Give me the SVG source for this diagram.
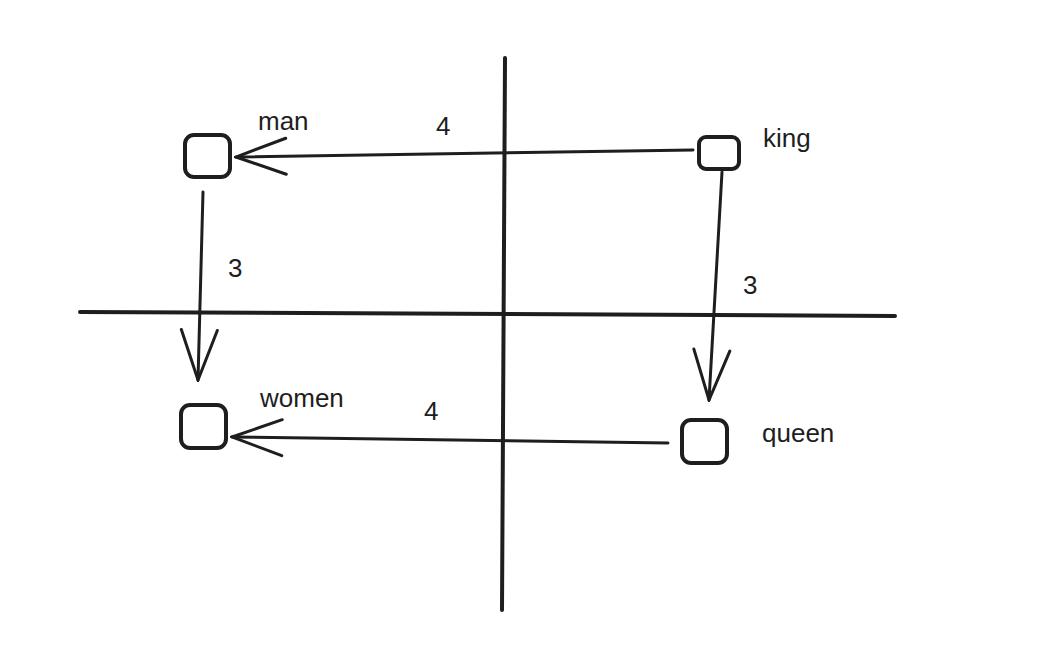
<svg xmlns="http://www.w3.org/2000/svg" width="1056" height="670" viewBox="0 0 1056 670">
<style>
.s{fill:none;stroke:#1e1e1e;stroke-width:4;stroke-linecap:round;stroke-linejoin:round}
.a{fill:none;stroke:#1e1e1e;stroke-width:3;stroke-linecap:round}
.t{font-family:"Liberation Sans",sans-serif;font-size:26px;fill:#1e1e1e}
</style>
<defs>
<marker id="h" viewBox="0 0 20 20" refX="18" refY="10" markerWidth="20" markerHeight="20" markerUnits="userSpaceOnUse" orient="auto"><path d="M0 0 L18 10 L0 20" fill="none" stroke="#1e1e1e" stroke-width="3" stroke-linecap="round"/></marker>
<marker id="H" viewBox="0 0 60 40" refX="58" refY="20" markerWidth="60" markerHeight="40" markerUnits="userSpaceOnUse" orient="auto"><path d="M8 2 L58 20 L8 38" fill="none" stroke="#1e1e1e" stroke-width="3" stroke-linecap="round"/></marker>
</defs>
<rect width="1056" height="670" fill="#fff"/>
<g id="axes">
<path class="s" d="M505 58 L502 610"/>
<path class="s" d="M80 312 L895 316"/>
</g>
<g id="man"><rect class="s" x="185" y="135" width="45" height="42" rx="9"/><text class="t" x="258" y="130">man</text></g>
<g id="king"><rect class="s" x="699" y="137" width="40" height="32" rx="7"/><text class="t" x="763" y="147">king</text></g>
<g id="women"><rect class="s" x="181" y="405" width="45" height="43" rx="9"/><text class="t" x="260" y="407">women</text></g>
<g id="queen"><rect class="s" x="682" y="420" width="45" height="43" rx="9"/><text class="t" x="762" y="442">queen</text></g>
<g id="connectors">
<path class="a" d="M693 150 L236 157" marker-end="url(#H)"/>
<path class="a" d="M203 192 L198 380" marker-end="url(#H)"/>
<path class="a" d="M722 172 L709 400" marker-end="url(#H)"/>
<path class="a" d="M668 443 L232 437" marker-end="url(#H)"/>
<text class="t" x="436" y="135">4</text>
<text class="t" x="228" y="277">3</text>
<text class="t" x="743" y="294">3</text>
<text class="t" x="424" y="420">4</text>
</g>
</svg>
